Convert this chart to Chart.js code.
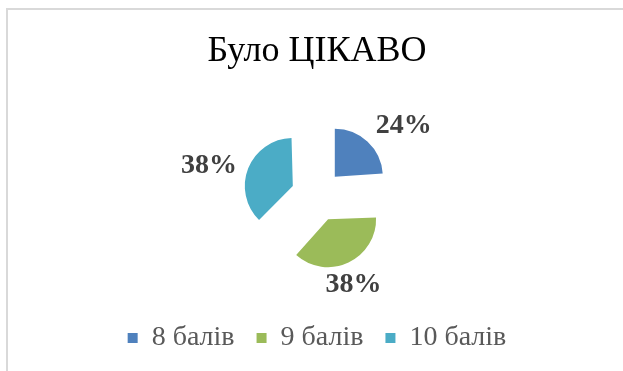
<!DOCTYPE html>
<html>
<head>
<meta charset="utf-8">
<script src="https://cdn.jsdelivr.net/npm/chart.js@4/dist/chart.umd.min.js"></script>
<style>
    html, body { margin: 0; padding: 0; background: #fff; }
    .wrap { position: relative; width: 623px; height: 371px; overflow: hidden; }
    .frame {
        position: absolute; left: 6px; top: 8px; right: -10px; bottom: -10px;
        border-top: 2px solid #d9d9d9; border-left: 2px solid #d9d9d9;
    }
    #chart { position: absolute; left: 0; top: 0; }
</style>
</head>
<body>
<div class="wrap">
    <div class="frame"></div>
    <canvas id="chart" width="623" height="371"></canvas>
</div>
<script>
const labels = ['8 балів', '9 балів', '10 балів'];
const values = [24, 38, 38];
const colors = ['#4F81BD', '#9BBB59', '#4BACC6'];

const RADIUS = 48;   // slice radius, px
const EXPLODE = 26;  // distance every slice is pulled out from the centre, px

// ArcElement moves a slice by offset/4 but also grows its radius by
// (offset/4) * (1 - sin(circumference)); undo that growth so all slices match
const evenExplode = {
    id: 'evenExplode',
    beforeDatasetsDraw(chart) {
        chart.getDatasetMeta(0).data.forEach(arc => {
            const fix = 1 - Math.sin(Math.min(Math.PI, arc.circumference));
            arc.outerRadius = RADIUS - (arc.options.offset / 4) * fix;
        });
    }
};

// percentage labels outside each slice: the side of the text facing the pie
// sits on an anchor point along the slice's middle angle
const outsideLabels = {
    id: 'outsideLabels',
    afterDatasetsDraw(chart) {
        const ctx = chart.ctx;
        const meta = chart.getDatasetMeta(0);
        const data = chart.data.datasets[0].data;
        const total = data.reduce((a, b) => a + b, 0);
        const capHeight = 19;
        ctx.save();
        ctx.font = 'bold 28px "Liberation Serif"';
        ctx.fillStyle = '#404040';
        ctx.textBaseline = 'alphabetic';
        meta.data.forEach((arc, i) => {
            const mid = (arc.startAngle + arc.endAngle) / 2;
            const dx = Math.cos(mid), dy = Math.sin(mid);
            const r = EXPLODE + RADIUS + 12;
            const ax = arc.x + dx * r;
            const ay = arc.y + dy * r;
            ctx.textAlign = dx > 0.5 ? 'left' : dx < -0.5 ? 'right' : 'center';
            const y = dy < -0.5 ? ay : dy > 0.5 ? ay + capHeight : ay + capHeight / 2;
            const text = Math.round(data[i] / total * 100) + '%';
            ctx.fillText(text, ax, y);
        });
        ctx.restore();
    }
};

new Chart(document.getElementById('chart'), {
    type: 'pie',
    data: {
        labels: labels,
        datasets: [{
            data: values,
            backgroundColor: colors,
            borderWidth: 0,
            offset: EXPLODE * 4,
            radius: RADIUS
        }]
    },
    plugins: [evenExplode, outsideLabels],
    options: {
        responsive: false,
        animation: false,
        events: [],
        layout: {
            padding: {left: 11, right: 0, top: 0, bottom: 9}
        },
        plugins: {
            title: {
                display: true,
                text: 'Було ЦІКАВО',
                color: '#000',
                font: {family: '"Liberation Serif"', size: 36, weight: 'normal'},
                padding: {top: 30, bottom: 16}
            },
            legend: {
                position: 'bottom',
                labels: {
                    boxWidth: 10,
                    boxHeight: 10,
                    padding: 22,
                    color: '#595959',
                    font: {family: '"Liberation Serif"', size: 28}
                }
            },
            tooltip: {enabled: false}
        }
    }
});
</script>
</body>
</html>
